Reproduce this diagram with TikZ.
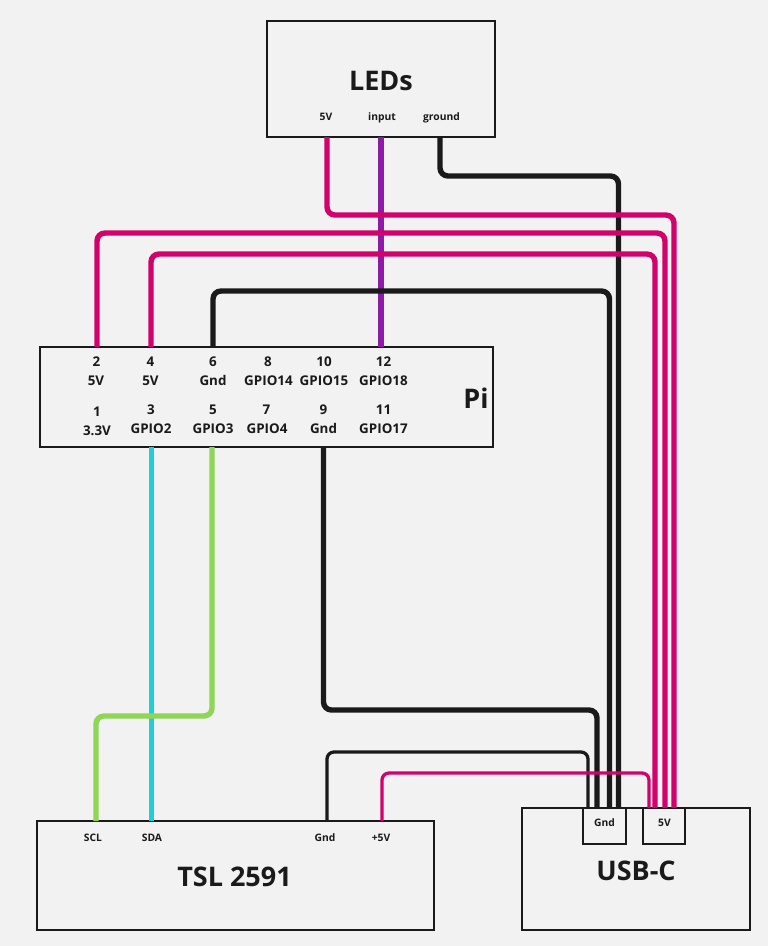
\documentclass[tikz,border=0pt]{standalone}
\usepackage{fontspec}
\setmainfont{Open Sans}
\definecolor{bgc}{HTML}{F2F2F2}
\definecolor{ink}{HTML}{1A1A1A}
\definecolor{pinkw}{HTML}{D1026C}
\definecolor{purplew}{HTML}{8E1BA8}
\definecolor{cyanw}{HTML}{1FCFD8}
\definecolor{greenw}{HTML}{8FD657}
\tikzset{
  x=1pt,y=-1pt,
  box/.style={draw=ink,line width=2.5pt,rectangle,inner sep=0pt,outer sep=0pt},
  title/.style={anchor=base,text=ink,inner sep=0pt,font=\fontsize{27}{30}\selectfont\bfseries},
  pinlabel/.style={anchor=base,text=ink,inner sep=0pt,font=\fontsize{13.4}{15}\selectfont\bfseries},
  small/.style={anchor=base,text=ink,inner sep=0pt,font=\fontsize{10.3}{12}\selectfont\bfseries},
  wire/.style={line width=5.4pt,rounded corners=8pt,line join=round},
  thinwire/.style={line width=3.3pt,rounded corners=7pt,line join=round}
}
\begin{document}
\begin{tikzpicture}
\fill[bgc] (0,0) rectangle (768,946);
\useasboundingbox (0,0) rectangle (768,946);
% boxes
\node[box,minimum width=228pt,minimum height=116pt] (leds) at (381,79) {};
\node[box,minimum width=453pt,minimum height=100pt] (pi) at (266.5,397) {};
\node[box,minimum width=397pt,minimum height=109pt] (tsl) at (235.5,875.5) {};
\node[box,minimum width=228pt,minimum height=122pt] (usb) at (636,869) {};
\node[box,minimum width=43pt,minimum height=36pt] (ugnd) at (604.5,826) {};
\node[box,minimum width=42pt,minimum height=36pt] (ufive) at (664,826) {};
% pin coordinates
\coordinate (l5) at (327,0 |- leds.south);
\coordinate (li) at (381,0 |- leds.south);
\coordinate (lg) at (440,0 |- leds.south);
\coordinate (p2) at (97,0 |- pi.north);
\coordinate (p4) at (151,0 |- pi.north);
\coordinate (p6) at (213,0 |- pi.north);
\coordinate (p12) at (381,0 |- pi.north);
\coordinate (p3) at (151.5,0 |- pi.south);
\coordinate (p5) at (212,0 |- pi.south);
\coordinate (p9) at (323.5,0 |- pi.south);
\coordinate (tscl) at (96,0 |- tsl.north);
\coordinate (tsda) at (151.5,0 |- tsl.north);
\coordinate (tgnd) at (327,0 |- tsl.north);
\coordinate (tfive) at (382,0 |- tsl.north);
\coordinate (ua) at (588,0 |- usb.north);
\coordinate (ub) at (597,0 |- usb.north);
\coordinate (uc) at (609.5,0 |- usb.north);
\coordinate (ud) at (618.5,0 |- usb.north);
\coordinate (ue) at (649,0 |- usb.north);
\coordinate (uf) at (655,0 |- usb.north);
\coordinate (ug) at (665,0 |- usb.north);
\coordinate (uh) at (674,0 |- usb.north);
% wires
\draw[wire,purplew] (li) -- (p12);
\draw[wire,cyanw] (p3) -- (tsda);
\draw[wire,ink] (lg) -- (lg |- 0,176) -- (ud |- 0,176) -- (ud);
\draw[wire,ink] (p6) -- (p6 |- 0,291) -- (uc |- 0,291) -- (uc);
\draw[wire,ink] (p9) -- (p9 |- 0,710) -- (ub |- 0,710) -- (ub);
\draw[thinwire,ink] (tgnd) -- (tgnd |- 0,752) -- (ua |- 0,752) -- (ua);
\draw[wire,pinkw] (l5) -- (l5 |- 0,215) -- (uh |- 0,215) -- (uh);
\draw[wire,pinkw] (p2) -- (p2 |- 0,233) -- (ug |- 0,233) -- (ug);
\draw[wire,pinkw] (p4) -- (p4 |- 0,254) -- (uf |- 0,254) -- (uf);
\draw[thinwire,pinkw] (tfive) -- (tfive |- 0,773) -- (ue |- 0,773) -- (ue);
\draw[wire,greenw] (p5) -- (p5 |- 0,716) -- (tscl |- 0,716) -- (tscl);
% titles
\node[title] (tleds) at (381,90) {LEDs};
\node[title] (tpi) at (476,408) {Pi};
\node[title] (ttsl) at (234.5,886) {TSL 2591};
\node[title] (tusb) at (636,880) {USB-C};
% LED labels
\node[small] (a1) at (326,120.5) {5V};
\node[small] (a2) at (382,120.5) {input};
\node[small] (a3) at (441.5,120.5) {ground};
% Pi labels
\node[pinlabel] (b1) at (96.5,366) {2};
\node[pinlabel] (b2) at (96,385.5) {5V};
\node[pinlabel] (b3) at (150.5,366) {4};
\node[pinlabel] (b4) at (150.5,385.5) {5V};
\node[pinlabel] (b5) at (213,366) {6};
\node[pinlabel] (b6) at (213,385.5) {Gnd};
\node[pinlabel] (b7) at (268,366) {8};
\node[pinlabel] (b8) at (268.5,385.5) {GPIO14};
\node[pinlabel] (b9) at (324,366) {10};
\node[pinlabel] (b10) at (324,385.5) {GPIO15};
\node[pinlabel] (b11) at (383.5,366) {12};
\node[pinlabel] (b12) at (383.5,385.5) {GPIO18};
\node[pinlabel] (c1) at (97,416) {1};
\node[pinlabel] (c2) at (97,435) {3.3V};
\node[pinlabel] (c3) at (151,414) {3};
\node[pinlabel] (c4) at (151,433.5) {GPIO2};
\node[pinlabel] (c5) at (213,414) {5};
\node[pinlabel] (c6) at (213,433.5) {GPIO3};
\node[pinlabel] (c7) at (266.5,414) {7};
\node[pinlabel] (c8) at (267,433.5) {GPIO4};
\node[pinlabel] (c9) at (323.5,414) {9};
\node[pinlabel] (c10) at (323.5,433.5) {Gnd};
\node[pinlabel] (c11) at (383.5,414) {11};
\node[pinlabel] (c12) at (383.5,433.5) {GPIO17};
% TSL labels
\node[small] (d1) at (93,841.5) {SCL};
\node[small] (d2) at (152,841.5) {SDA};
\node[small] (d3) at (325,841.5) {Gnd};
\node[small] (d4) at (381,841.5) {+5V};
% USB labels
\node[small] (e1) at (604.5,826.5) {Gnd};
\node[small] (e2) at (664.5,826.5) {5V};
\end{tikzpicture}
\end{document}
